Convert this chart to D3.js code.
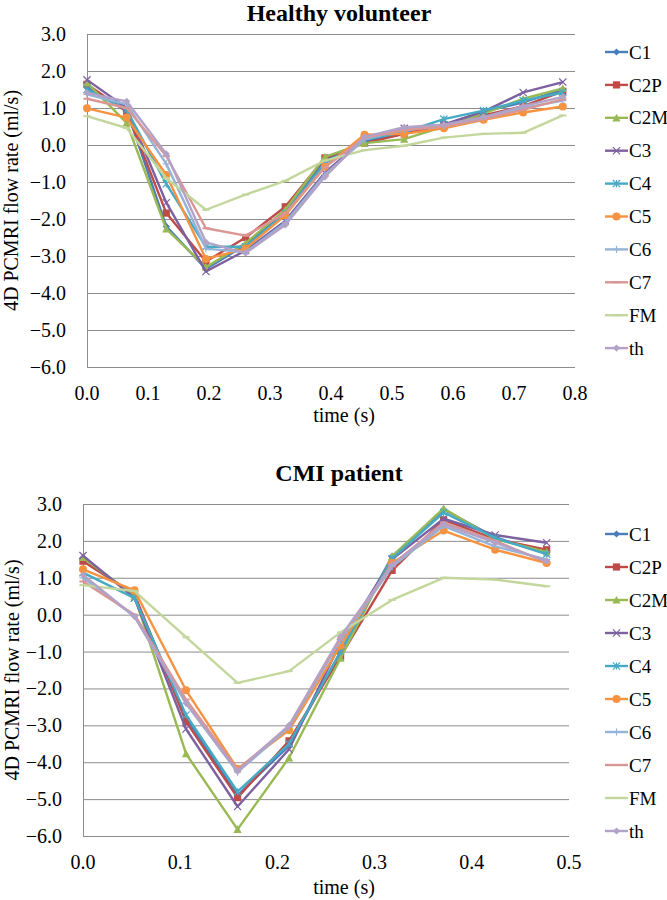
<!DOCTYPE html>
<html><head><meta charset="utf-8">
<script src="https://cdn.jsdelivr.net/npm/d3@7/dist/d3.min.js"></script>
<style>body{margin:0;background:#fff}</style></head>
<body><svg id="c" width="667" height="900"></svg>
<script>
// ---- data ----
const seriesNames = ["C1","C2P","C2M","C3","C4","C5","C6","C7","FM","th"];
const seriesColors = ["#4A7EBB","#BE4B48","#98B954","#7D60A0","#46AAC5","#F69240","#95B3D7","#D99694","#C3D69B","#B3A2C7"];
const seriesMarkers = ["diamond","square","triangle","x","star","circle","plus","dash","dash","diamond"];
const yTicks = [3,2,1,0,-1,-2,-3,-4,-5,-6];
const healthyXTicks = [0,0.1,0.2,0.3,0.4,0.5,0.6,0.7,0.8];
const cmiXTicks = [0,0.1,0.2,0.3,0.4,0.5];

const healthyTime = [0,0.065,0.13,0.195,0.26,0.325,0.39,0.455,0.52,0.585,0.65,0.715,0.78];
const healthyC1  = [1.55,0.95,-2.2,-3.35,-2.7,-1.8,-0.4,0.1,0.3,0.55,0.9,1.15,1.5];
const healthyC2P = [1.64,0.9,-1.84,-3.15,-2.5,-1.67,-0.35,0.05,0.3,0.55,0.8,1.05,1.45];
const healthyC2M = [1.68,0.6,-2.27,-3.3,-2.65,-1.75,-0.32,0.05,0.16,0.5,0.85,1.25,1.53];
const healthyC3  = [1.76,1.0,-1.56,-3.42,-2.85,-2.05,-0.75,0.18,0.45,0.55,0.9,1.42,1.7];
const healthyC4  = [1.5,0.95,-1.05,-2.75,-2.75,-1.85,-0.5,0.15,0.35,0.7,0.93,1.2,1.42];
const healthyC5  = [0.99,0.74,-0.81,-3.08,-2.8,-1.9,-0.59,0.28,0.3,0.45,0.68,0.88,1.04];
const healthyC6  = [1.37,1.1,-0.51,-2.8,-2.9,-2.1,-0.8,0.15,0.42,0.5,0.7,1.0,1.2];
const healthyC7  = [1.25,1.0,-0.3,-2.25,-2.45,-1.85,-0.6,0.2,0.4,0.5,0.7,0.95,1.24];
const healthyFM  = [0.78,0.46,-0.9,-1.75,-1.34,-0.97,-0.42,-0.14,-0.02,0.2,0.3,0.33,0.8];
const healthyTh  = [1.41,1.18,-0.24,-2.63,-2.92,-2.16,-0.86,0.22,0.48,0.55,0.75,1.05,1.3];

const cmiTime = [0,0.053,0.106,0.159,0.212,0.265,0.318,0.371,0.424,0.477];
const cmiC1  = [1.55,0.5,-2.8,-4.9,-3.55,-1.0,1.58,2.85,2.1,1.65];
const cmiC2P = [1.45,0.55,-2.9,-4.96,-3.42,-1.13,1.2,2.57,2.05,1.76];
const cmiC2M = [1.55,0.5,-3.77,-5.82,-3.88,-1.18,1.58,2.88,2.05,1.7];
const cmiC3  = [1.6,0.45,-3.1,-5.2,-3.65,-0.75,1.5,2.6,2.16,1.95];
const cmiC4  = [1.14,0.45,-2.72,-4.8,-3.5,-1.0,1.52,2.77,2.08,1.64];
const cmiC5  = [1.23,0.66,-2.05,-4.18,-3.13,-0.84,1.4,2.28,1.76,1.4];
const cmiC6  = [1.0,-0.05,-2.4,-4.27,-3.05,-0.7,1.3,2.4,1.85,1.5];
const cmiC7  = [0.9,0.0,-2.3,-4.2,-3.02,-0.65,1.35,2.5,2.0,1.42];
const cmiFM  = [0.8,0.64,-0.61,-1.85,-1.53,-0.48,0.4,1.0,0.95,0.77];
const cmiTh  = [1.08,-0.05,-2.4,-4.25,-3.0,-0.6,1.35,2.45,1.95,1.45];

const healthySeries = [healthyC1,healthyC2P,healthyC2M,healthyC3,healthyC4,healthyC5,healthyC6,healthyC7,healthyFM,healthyTh];
const cmiSeries = [cmiC1,cmiC2P,cmiC2M,cmiC3,cmiC4,cmiC5,cmiC6,cmiC7,cmiFM,cmiTh];

// ---- drawing ----
const svg = d3.select("#c");
const FONT = "Liberation Serif";

function marker(g, type, x, y, color){
  const s = 3.6;
  if(type==="diamond"){
    g.append("path").attr("d",`M${x},${y-s}L${x+s},${y}L${x},${y+s}L${x-s},${y}Z`).attr("fill",color);
  } else if(type==="square"){
    g.append("rect").attr("x",x-s).attr("y",y-s).attr("width",2*s).attr("height",2*s).attr("fill",color);
  } else if(type==="triangle"){
    g.append("path").attr("d",`M${x},${y-s-0.5}L${x+s+0.5},${y+s}L${x-s-0.5},${y+s}Z`).attr("fill",color);
  } else if(type==="circle"){
    g.append("circle").attr("cx",x).attr("cy",y).attr("r",s+0.4).attr("fill",color);
  } else if(type==="x"){
    g.append("path").attr("d",`M${x-s},${y-s}L${x+s},${y+s}M${x-s},${y+s}L${x+s},${y-s}`).attr("stroke",color).attr("stroke-width",1.2);
  } else if(type==="star"){
    g.append("path").attr("d",`M${x-s},${y-s}L${x+s},${y+s}M${x-s},${y+s}L${x+s},${y-s}M${x},${y-s}L${x},${y+s}`).attr("stroke",color).attr("stroke-width",1.2);
  } else if(type==="plus"){
    g.append("path").attr("d",`M${x-s},${y}L${x+s},${y}M${x},${y-s}L${x},${y+s}`).attr("stroke",color).attr("stroke-width",1.2);
  } else if(type==="dash"){
    g.append("path").attr("d",`M${x-s},${y}L${x+s},${y}`).attr("stroke",color).attr("stroke-width",2);
  }
}

function drawChart(cfg){
  const x = d3.scaleLinear().domain(cfg.xDomain).range([cfg.left, cfg.right]);
  const y = d3.scaleLinear().domain([-6,3]).range([cfg.bottom, cfg.top]);
  const g = svg.append("g").attr("font-family",FONT);

  g.append("text").attr("x",cfg.titleX).attr("y",cfg.titleY).attr("text-anchor","middle")
    .attr("font-size",24).attr("font-weight","bold").text(cfg.title);

  g.append("g").selectAll("line").data(yTicks).join("line")
    .attr("x1",cfg.left).attr("x2",cfg.right).attr("y1",d=>y(d)+0.5).attr("y2",d=>y(d)+0.5)
    .attr("stroke","#8c8c8c").attr("stroke-width",1);
  g.append("line").attr("x1",cfg.left+0.5).attr("x2",cfg.left+0.5).attr("y1",cfg.top).attr("y2",cfg.bottom+0.5)
    .attr("stroke","#8c8c8c");

  g.append("g").selectAll("text").data(yTicks).join("text")
    .attr("x",cfg.left-21).attr("y",d=>y(d)).attr("dy","0.35em").attr("text-anchor","end")
    .attr("font-size",20).text(d=>d3.format(".1f")(d));
  g.append("g").selectAll("text").data(cfg.xTicks).join("text")
    .attr("x",d=>x(d)).attr("y",cfg.xTickY).attr("text-anchor","middle")
    .attr("font-size",20).text(d=>d3.format(".1f")(d));

  g.append("text").attr("x",cfg.xTitleX).attr("y",cfg.xTitleY).attr("text-anchor","middle")
    .attr("font-size",20).text("time (s)");
  g.append("text").attr("transform",`translate(${cfg.yTitleX},${(cfg.top+cfg.bottom)/2}) rotate(-90)`)
    .attr("text-anchor","middle").attr("dy","0.35em")
    .attr("font-size",20).text("4D PCMRI flow rate (ml/s)");

  const line = d3.line().x(d=>x(d[0])).y(d=>y(d[1]));
  cfg.series.forEach((vals,i)=>{
    const pts = cfg.time.map((t,j)=>[t,vals[j]]);
    const sg = g.append("g");
    sg.append("path").attr("d",line(pts)).attr("fill","none").attr("stroke",seriesColors[i])
      .attr("stroke-width",2.4).attr("stroke-linejoin","round");
    pts.forEach(p=>marker(sg, seriesMarkers[i], x(p[0]), y(p[1]), seriesColors[i]));
  });

  seriesNames.forEach((name,i)=>{
    const ly = cfg.legendY0 + i*cfg.legendStep;
    const lg = g.append("g");
    lg.append("line").attr("x1",605).attr("x2",628).attr("y1",ly).attr("y2",ly)
      .attr("stroke",seriesColors[i]).attr("stroke-width",2.4);
    marker(lg, seriesMarkers[i], 616.5, ly, seriesColors[i]);
    lg.append("text").attr("x",629).attr("y",ly).attr("dy","0.35em")
      .attr("font-size",19).text(name);
  });
}

drawChart({title:"Healthy volunteer", titleX:339, titleY:21,
  left:87, right:575, top:34, bottom:367, xDomain:[0,0.8], xTicks:healthyXTicks,
  xTickY:400, xTitleX:344, xTitleY:422, yTitleX:11,
  time:healthyTime, series:healthySeries, legendY0:52, legendStep:32.9});

drawChart({title:"CMI patient", titleX:339, titleY:481,
  left:83, right:569, top:504, bottom:836, xDomain:[0,0.5], xTicks:cmiXTicks,
  xTickY:869, xTitleX:344, xTitleY:894, yTitleX:12,
  time:cmiTime, series:cmiSeries, legendY0:534, legendStep:33});
</script></body></html>
